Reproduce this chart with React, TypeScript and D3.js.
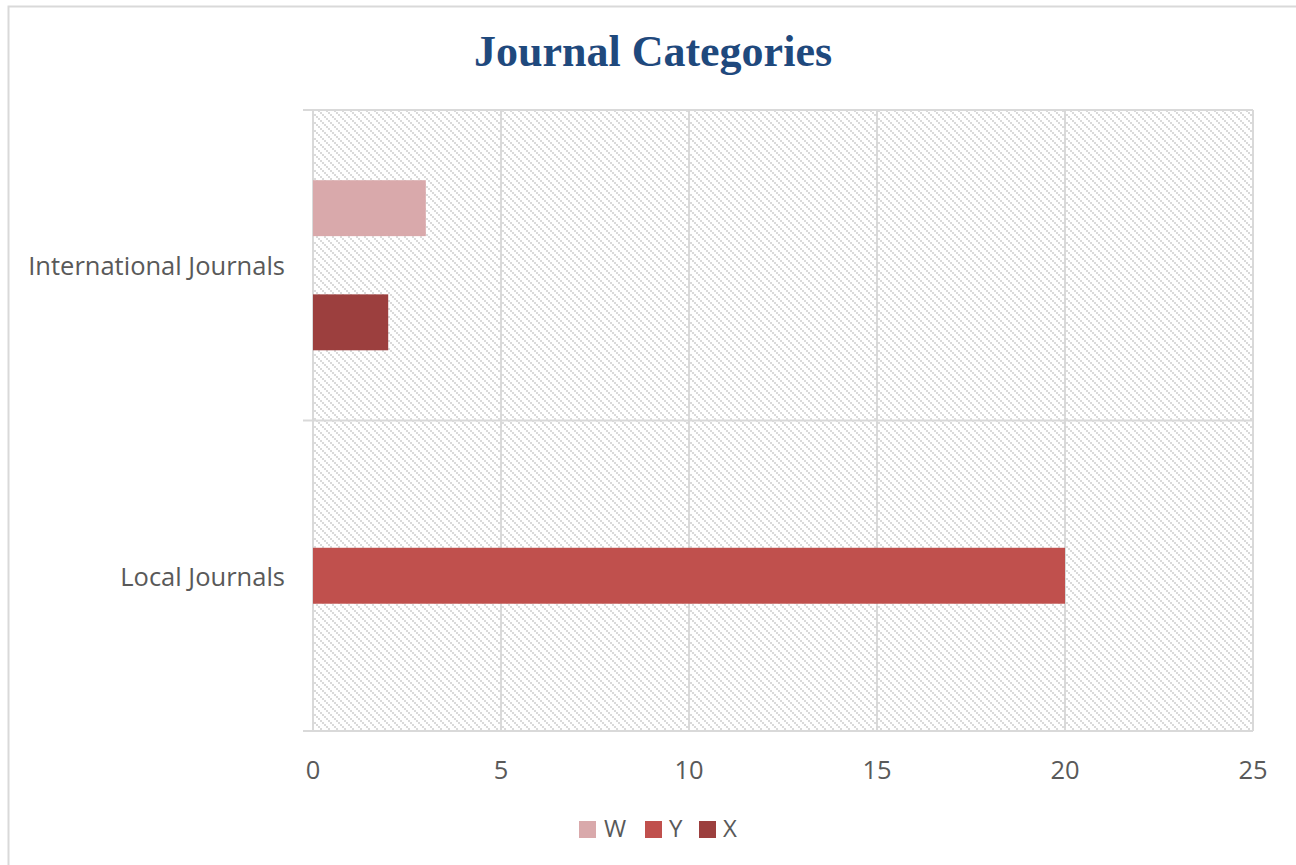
import React from "react";
import * as d3 from "d3";

const categories = ["International Journals", "Local Journals"];
const seriesNames = ["W", "Y", "X"];
const seriesColors = ["#D9A9AB", "#C0504D", "#9C3F3E"];
const valuesW = [3, 0];
const valuesY = [0, 20];
const valuesX = [2, 0];
const xTicks = [0, 5, 10, 15, 20, 25];

const W = 1296;
const H = 865;
const left = 313;
const right = 1253;
const top = 110;
const bottom = 731;

export default function App() {
  const x = d3.scaleLinear().domain([0, 25]).range([left, right]);
  const yCat = d3.scaleBand<string>().domain(categories).range([top, bottom]).paddingInner(0).paddingOuter(0);
  const ySer = d3
    .scaleBand<string>()
    .domain(seriesNames)
    .range([0, yCat.bandwidth()])
    .paddingInner(0.02)
    .paddingOuter(1.23);
  const allValues = [valuesW, valuesY, valuesX];
  const text = "#595959";
  const grid = "#d9d9d9";
  const font = "'Open Sans', sans-serif";
  const boundaries = [top, ...categories.map((c) => (yCat(c) as number) + yCat.bandwidth())];

  const legendItems = [
    { name: "W", sx: 579, tx: 604 },
    { name: "Y", sx: 645, tx: 669 },
    { name: "X", sx: 699, tx: 723 },
  ];

  return (
    <svg
      width={W}
      height={H}
      style={{ position: "absolute", left: 0, top: 0, background: "#fff" }}
    >
      <defs>
        <pattern id="hatch" width="8" height="8" patternUnits="userSpaceOnUse">
          <rect x="0" y="0" width="8" height="8" fill="#fff" />
          <rect x="0" y="0" width="2" height="2" fill="#dadada" />
          <rect x="2" y="2" width="2" height="2" fill="#dadada" />
          <rect x="4" y="4" width="2" height="2" fill="#dadada" />
          <rect x="6" y="6" width="2" height="2" fill="#dadada" />
        </pattern>
      </defs>
      <rect x={8.5} y={6.5} width={1400} height={1000} fill="#fff" stroke={grid} strokeWidth={2} />
      <text
        x={653}
        y={66}
        textAnchor="middle"
        fontFamily="'Liberation Serif', serif"
        fontWeight="bold"
        fontSize={44}
        fill="#1F497D"
      >
        Journal Categories
      </text>
      <rect x={left} y={top} width={right - left} height={bottom - top} fill="url(#hatch)" />
      {xTicks.map((t) => (
        <line key={"g" + t} x1={x(t)} x2={x(t)} y1={top} y2={bottom} stroke={grid} strokeWidth={2} />
      ))}
      {boundaries.map((b, i) => (
        <line key={"h" + i} x1={left - 10} x2={right} y1={b} y2={b} stroke={grid} strokeWidth={2} />
      ))}
      {categories.map((c, ci) =>
        seriesNames.map((s, si) => {
          const v = allValues[si][ci];
          if (!v) return null;
          return (
            <rect
              key={c + s}
              x={x(0)}
              y={(yCat(c) as number) + (ySer(s) as number)}
              width={x(v) - x(0)}
              height={ySer.bandwidth()}
              fill={seriesColors[si]}
            />
          );
        })
      )}
      {categories.map((c) => (
        <text
          key={c}
          x={285}
          y={(yCat(c) as number) + yCat.bandwidth() / 2 + 10}
          textAnchor="end"
          fontFamily={font}
          fontSize={25.5}
          fill={text}
        >
          {c}
        </text>
      ))}
      {xTicks.map((t) => (
        <text key={"t" + t} x={x(t)} y={779} textAnchor="middle" fontFamily={font} fontSize={25.5} fill={text}>
          {t}
        </text>
      ))}
      {legendItems.map((l, i) => (
        <g key={l.name}>
          <rect x={l.sx} y={821} width={17} height={17} fill={seriesColors[i]} />
          <text x={l.tx} y={837} fontFamily={font} fontSize={24} fill={text}>
            {l.name}
          </text>
        </g>
      ))}
    </svg>
  );
}
